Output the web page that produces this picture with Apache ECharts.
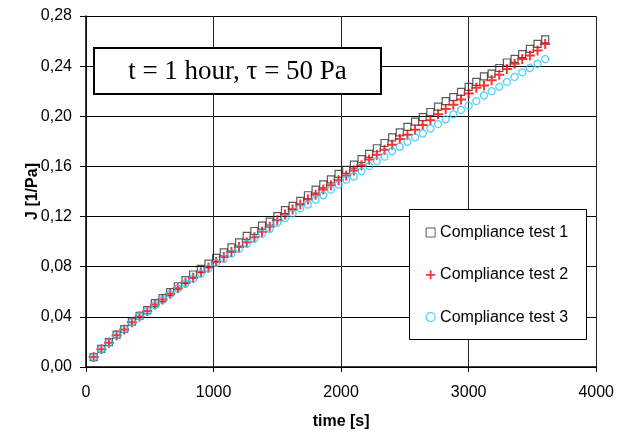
<!DOCTYPE html>
<html>
<head>
<meta charset="utf-8">
<script src="https://cdn.jsdelivr.net/npm/echarts@6/dist/echarts.min.js"></script>
<style>html,body{margin:0;padding:0;background:#fff;}#c{width:617px;height:435px;}</style>
</head>
<body>
<div id="c"></div>
<script>
var timeS = [60,120,180,240,300,360,420,480,540,600,660,720,780,840,900,960,1020,1080,1140,1200,
1260,1320,1380,1440,1500,1560,1620,1680,1740,1800,1860,1920,1980,2040,2100,2160,2220,2280,2340,2400,
2460,2520,2580,2640,2700,2760,2820,2880,2940,3000,3060,3120,3180,3240,3300,3360,3420,3480,3540,3600];

var test1 = [0.0079,0.0145,0.0198,0.0259,0.0303,0.0361,0.0409,0.0453,0.0510,0.0549,
0.0597,0.0644,0.0693,0.0738,0.0783,0.0825,0.0870,0.0915,0.0954,0.0994,
0.1046,0.1085,0.1128,0.1160,0.1204,0.1251,0.1286,0.1326,0.1370,0.1415,
0.1457,0.1496,0.1541,0.1573,0.1615,0.1658,0.1700,0.1745,0.1787,0.1832,
0.1871,0.1915,0.1958,0.1994,0.2034,0.2077,0.2121,0.2153,0.2194,0.2235,
0.2274,0.2319,0.2340,0.2385,0.2429,0.2458,0.2496,0.2538,0.2577,0.2613];

var test2 = [0.0079,0.0142,0.0194,0.0253,0.0300,0.0356,0.0403,0.0447,0.0498,0.0538,
0.0585,0.0628,0.0672,0.0711,0.0755,0.0794,0.0838,0.0877,0.0917,0.0957,
0.0996,0.1036,0.1079,0.1119,0.1170,0.1217,0.1257,0.1296,0.1336,0.1375,
0.1415,0.1449,0.1489,0.1528,0.1568,0.1609,0.1655,0.1694,0.1734,0.1773,
0.1818,0.1852,0.1892,0.1931,0.1968,0.2016,0.2059,0.2092,0.2134,0.2182,
0.2227,0.2245,0.2287,0.2332,0.2377,0.2419,0.2456,0.2485,0.2524,0.2577];

var test3 = [0.0079,0.0142,0.0194,0.0253,0.0300,0.0356,0.0403,0.0447,0.0494,0.0534,
0.0581,0.0625,0.0666,0.0704,0.0745,0.0785,0.0830,0.0862,0.0904,0.0943,
0.0983,0.1022,0.1062,0.1101,0.1150,0.1188,0.1225,0.1265,0.1296,0.1336,
0.1370,0.1415,0.1455,0.1494,0.1520,0.1561,0.1602,0.1642,0.1678,0.1721,
0.1757,0.1797,0.1832,0.1863,0.1903,0.1937,0.1976,0.2016,0.2051,0.2085,
0.2121,0.2166,0.2200,0.2235,0.2274,0.2314,0.2350,0.2385,0.2419,0.2456];

var seriesNames = ['Compliance test 1','Compliance test 2','Compliance test 3'];
var xTicks = [0,1000,2000,3000,4000];
var yTicks = [0,0.04,0.08,0.12,0.16,0.20,0.24,0.28];
var boxText = 't = 1 hour, \u03c4 = 50 Pa';

function pairs(ys){ var out=[]; for(var i=0;i<timeS.length;i++){ out.push([timeS[i], ys[i]]); } return out; }

var plusPath = 'path://M4,0h2v4h4v2h-4v4h-2v-4h-4v-2h4z';
var FONT = 'Liberation Sans, Arial, sans-serif';

var chart = echarts.init(document.getElementById('c'), null, {renderer:'canvas'});
chart.setOption({
  animation:false,
  backgroundColor:'#ffffff',
  grid:{left:86,right:19,top:16,bottom:65,containLabel:false},
  xAxis:{
    type:'value', min:xTicks[0], max:xTicks[xTicks.length-1], interval:1000,
    name:'time [s]', nameLocation:'middle', nameGap:55, nameMoveOverlap:false,
    nameTextStyle:{fontFamily:FONT,fontSize:16,fontWeight:'bold',color:'#000',verticalAlign:'middle'},
    axisLine:{show:true,onZero:false,lineStyle:{color:'#000',width:1.5}},
    axisTick:{show:true,inside:false,length:5,lineStyle:{color:'#000',width:1}},
    axisLabel:{fontFamily:FONT,fontSize:16,color:'#000',margin:26,verticalAlign:'middle',
      formatter:function(v){ return String(v); }},
    splitLine:{show:true,lineStyle:{color:'#222',width:1}}
  },
  yAxis:{
    type:'value', min:yTicks[0], max:yTicks[yTicks.length-1], interval:0.04,
    name:'J [1/Pa]', nameLocation:'middle', nameGap:53, nameRotate:90, nameMoveOverlap:false,
    nameTextStyle:{fontFamily:FONT,fontSize:16,fontWeight:'bold',color:'#000',verticalAlign:'middle'},
    axisLine:{show:true,onZero:false,lineStyle:{color:'#000',width:1.5}},
    axisTick:{show:true,inside:false,length:6,lineStyle:{color:'#000',width:1}},
    axisLabel:{fontFamily:FONT,fontSize:16,color:'#000',margin:14,
      formatter:function(v){ return v.toFixed(2).replace('.',','); }},
    splitLine:{show:true,lineStyle:{color:'#000',width:1}}
  },
  legend:{
    show:true, z:80, orient:'vertical', left:425.5, top:224.5, itemWidth:9, itemHeight:9, itemGap:26.3,
    padding:0, selectedMode:false,
    textStyle:{fontFamily:FONT,fontSize:16,color:'#000'},
    data:[
      {name:seriesNames[0], icon:'rect', itemStyle:{color:'#fff',borderColor:'#333',borderWidth:1}},
      {name:seriesNames[1], icon:plusPath, itemStyle:{color:'#ff0000'}},
      {name:seriesNames[2], icon:'circle', itemStyle:{color:'#fff',borderColor:'#22c8ff',borderWidth:1.2}}
    ]
  },
  graphic:[
    {type:'rect', z:50, shape:{x:409.5,y:209.5,width:177,height:130}, style:{fill:'#fff',stroke:'#000',lineWidth:1}},
    {type:'rect', z:50, shape:{x:94,y:48,width:287,height:46}, style:{fill:'#fff',stroke:'#000',lineWidth:2}},
    {type:'text', z:51, x:237.5, y:72, style:{text:boxText, fontFamily:'Liberation Serif, Times New Roman, serif', fontSize:27, fill:'#000', align:'center', verticalAlign:'middle'}}
  ],
  series:[
    {name:seriesNames[0], type:'scatter', data:pairs(test1), symbol:'rect', symbolSize:7,
     itemStyle:{color:'rgba(255,255,255,0)',borderColor:'#333',borderWidth:1.2}, z:3},
    {name:seriesNames[1], type:'scatter', data:pairs(test2), symbol:plusPath, symbolSize:10,
     itemStyle:{color:'#ff0000'}, z:4},
    {name:seriesNames[2], type:'scatter', data:pairs(test3), symbol:'circle', symbolSize:7,
     itemStyle:{color:'rgba(255,255,255,0)',borderColor:'#22c8ff',borderWidth:1.3}, z:5}
  ]
});
</script>
</body>
</html>
